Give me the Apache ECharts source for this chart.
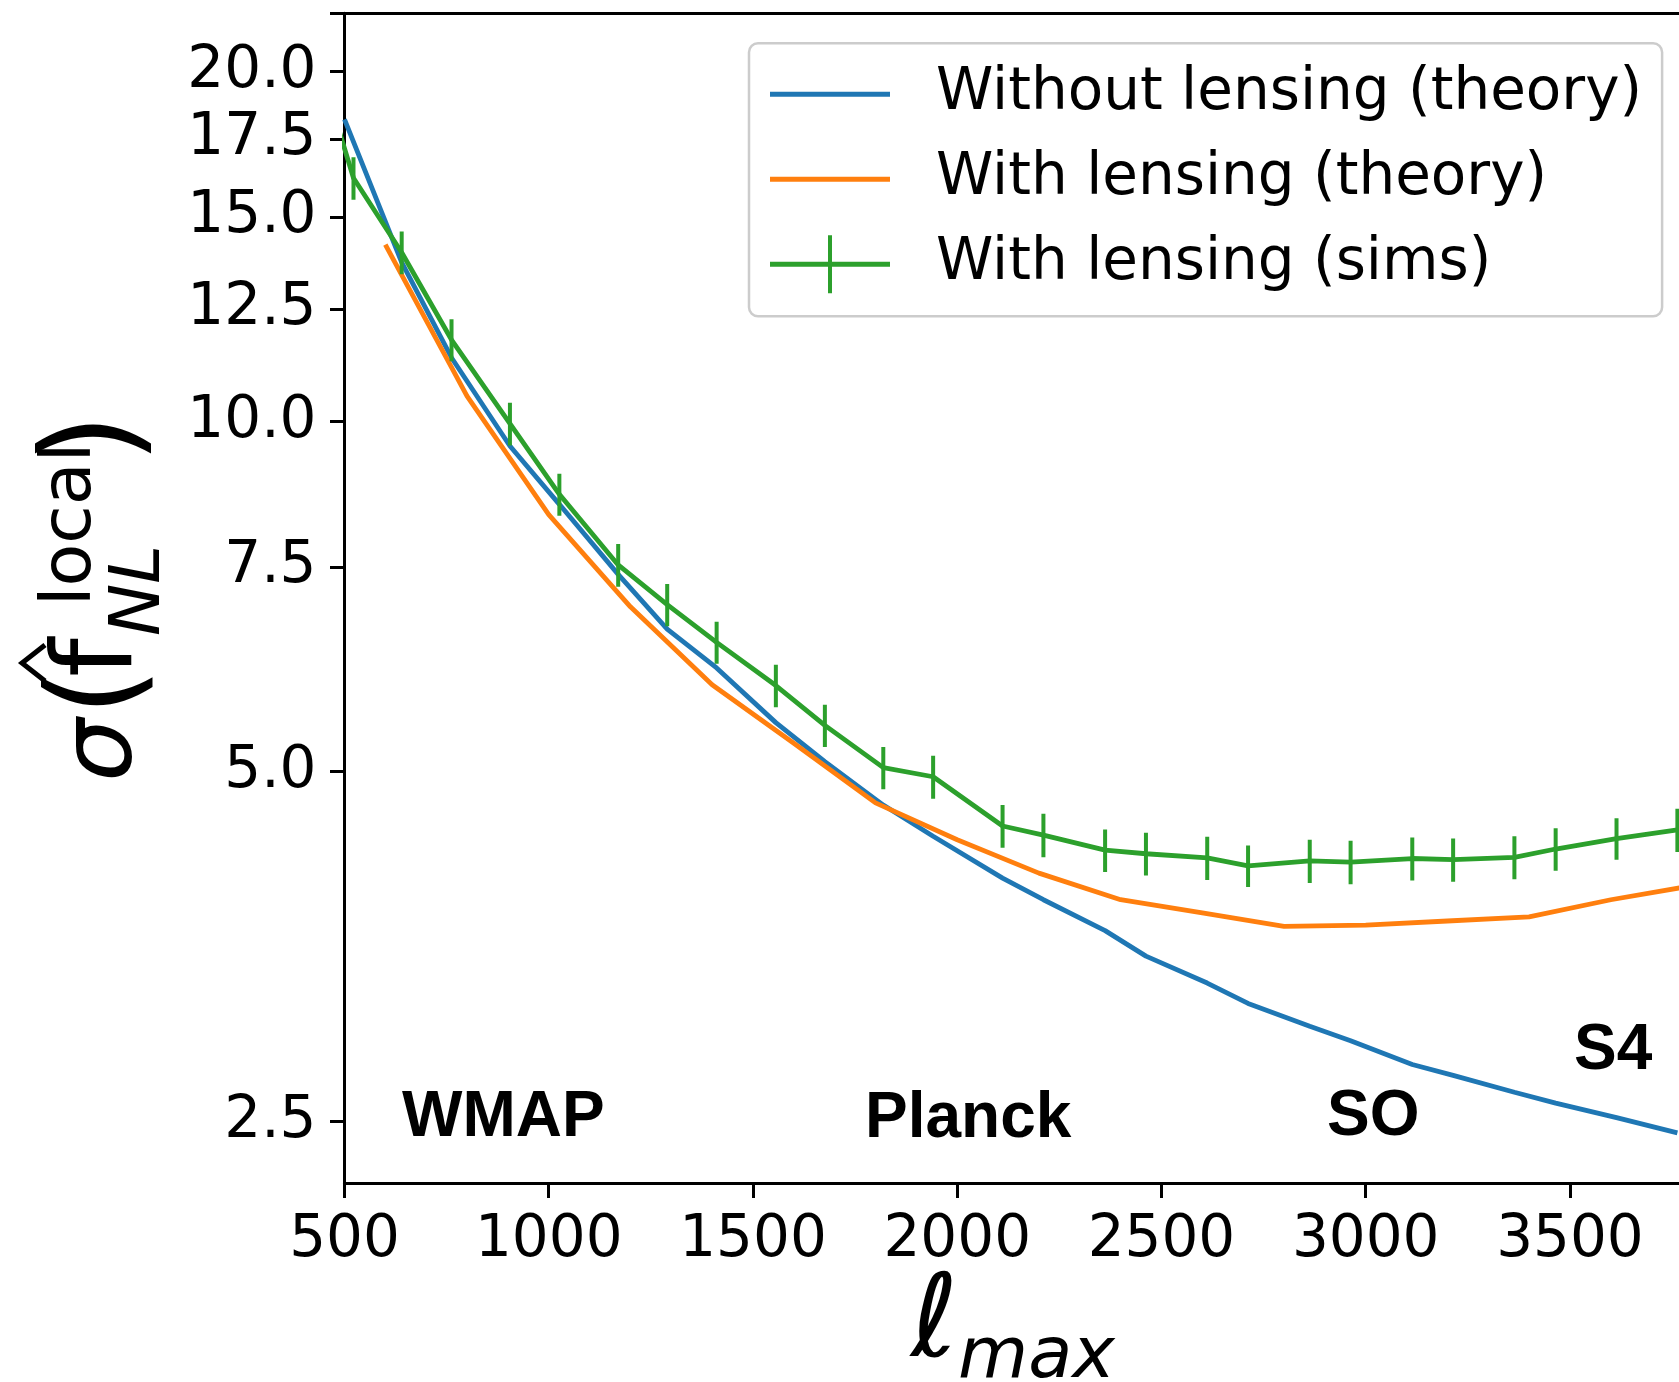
<!DOCTYPE html>
<html>
<head>
<meta charset="utf-8">
<script src="https://cdn.jsdelivr.net/npm/echarts@6/dist/echarts.min.js"></script>
<style>
  html, body { margin: 0; padding: 0; background: #ffffff; }
  #chart { width: 1679px; height: 1382px; }
</style>
</head>
<body>
<div id="chart"></div>
<script>
// Tick positions
const ellTicks = [500, 1000, 1500, 2000, 2500, 3000, 3500];
const sigmaTicks = [2.5, 5.0, 7.5, 10.0, 12.5, 15.0, 17.5, 20.0];

// Without lensing (theory)
const noLensEll = [500, 640, 762, 905, 1026, 1170, 1290, 1411, 1556, 1676, 1819, 1941, 2111, 2211,
  2362, 2462, 2612, 2712, 2863, 2963, 3114, 3214, 3364, 3465, 3614, 3763];
const noLensSigma = [18.2, 13.71, 11.35, 9.53, 8.49, 7.39, 6.63, 6.14, 5.51, 5.10, 4.68, 4.40, 4.05, 3.88,
  3.65, 3.47, 3.29, 3.16, 3.02, 2.935, 2.80, 2.74, 2.65, 2.594, 2.52, 2.445];

// With lensing (theory)
const lensEll = [600, 800, 1000, 1200, 1400, 1600, 1800, 2000, 2200, 2400, 2600, 2800, 3000, 3200,
  3400, 3600, 3800];
const lensSigma = [14.2, 10.52, 8.32, 6.93, 5.94, 5.29, 4.70, 4.37, 4.09, 3.88, 3.78, 3.68, 3.69, 3.72,
  3.75, 3.88, 3.99];

// With lensing (sims), with 1-sigma error bars
const simsEll = [470, 522, 640, 762, 905, 1026, 1170, 1290, 1411, 1556, 1676, 1819, 1941, 2111, 2211,
  2362, 2462, 2612, 2712, 2863, 2963, 3114, 3214, 3364, 3465, 3614, 3763];
const simsSigma = [18.6, 16.20, 13.98, 11.76, 9.96, 8.66, 7.53, 6.96, 6.46, 5.93, 5.48, 5.04, 4.95, 4.49, 4.41,
  4.28, 4.25, 4.215, 4.15, 4.19, 4.18, 4.21, 4.20, 4.22, 4.29, 4.38, 4.455];
const simsErr = [0.78, 0.68, 0.59, 0.49, 0.42, 0.36, 0.32, 0.29, 0.27, 0.25, 0.23, 0.21, 0.21, 0.19, 0.19,
  0.18, 0.18, 0.18, 0.17, 0.18, 0.18, 0.18, 0.18, 0.18, 0.18, 0.18, 0.19];

// Experiment labels
const experimentNames = ['WMAP', 'Planck', 'SO', 'S4'];

const BLUE = '#1f77b4', ORANGE = '#ff7f0e', GREEN = '#2ca02c';
const NAME_NOLENS = 'Without lensing (theory)';
const NAME_LENS = 'With lensing (theory)';
const NAME_SIMS = 'With lensing (sims)';
const FONT = 'DejaVu Sans';

const X_MIN = 500, X_MAX = 3800;
const Y_MIN = 2.212, Y_MAX = 22.45;

const LINE_W = 4.8;

const pairs = (xs, ys) => xs.map((x, i) => [x, ys[i]]);

const chart = echarts.init(document.getElementById('chart'), null, { renderer: 'canvas' });

const axisLineStyle = { color: '#000', width: 3 };

// Experiment label placement (pixel layout)
const expPos = [[402, 1118], [865, 1119], [1327, 1117], [1574, 1051]];

const option = {
  animation: false,
  backgroundColor: '#ffffff',
  textStyle: { fontFamily: FONT },
  grid: {
    left: 344.5, top: 13.3, width: 1348, height: 1170.2,
    containLabel: false, outerBoundsMode: 'none'
  },
  xAxis: [
    {
      type: 'value', min: X_MIN, max: X_MAX, position: 'bottom',
      axisLine: { show: true, onZero: false, lineStyle: axisLineStyle },
      axisTick: { show: true, inside: false, length: 14.5, lineStyle: { color: '#000', width: 3 }, customValues: ellTicks },
      axisLabel: { show: true, customValues: ellTicks, margin: 28, fontSize: 58, color: '#000', fontFamily: FONT,
        formatter: v => String(v) },
      splitLine: { show: false }
    },
    {
      type: 'value', min: X_MIN, max: X_MAX, position: 'top',
      axisLine: { show: true, onZero: false, lineStyle: axisLineStyle },
      axisTick: { show: false }, axisLabel: { show: false }, splitLine: { show: false }
    }
  ],
  yAxis: {
    type: 'log', logBase: 10, min: Y_MIN, max: Y_MAX,
    axisLine: { show: true, onZero: false, lineStyle: axisLineStyle },
    axisTick: { show: true, inside: false, length: 14.5, lineStyle: { color: '#000', width: 3 },
      customValues: sigmaTicks.concat([Y_MAX]) },
    axisLabel: { show: true, customValues: sigmaTicks, margin: 28, fontSize: 58, color: '#000', fontFamily: FONT,
      formatter: v => Number(v).toFixed(1) },
    splitLine: { show: false },
    minorTick: { show: false }
  },
  legend: {
    orient: 'vertical', left: 749, top: 43.3,
    itemWidth: 120, itemHeight: 58, itemGap: 27,
    padding: [22, 20, 23, 21],
    backgroundColor: 'rgba(255,255,255,0.8)',
    borderColor: '#cccccc', borderWidth: 2.5, borderRadius: 9,
    selectedMode: false,
    textStyle: { fontFamily: FONT, fontSize: 58, color: '#000', padding: [0, 0, 0, 41] },
    data: [
      { name: NAME_NOLENS, icon: 'path://M0,26.5L120,26.5L120,31.5L0,31.5Z' },
      { name: NAME_LENS, icon: 'path://M0,26.5L120,26.5L120,31.5L0,31.5Z' },
      { name: NAME_SIMS, icon: 'path://M0,26.5L58,26.5L58,0L62,0L62,26.5L120,26.5L120,31.5L62,31.5L62,58L58,58L58,31.5L0,31.5Z' }
    ]
  },
  series: [
    {
      name: NAME_NOLENS, type: 'line', data: pairs(noLensEll, noLensSigma),
      showSymbol: false, symbol: 'none', clip: true, color: BLUE,
      lineStyle: { color: BLUE, width: LINE_W }, z: 2
    },
    {
      name: NAME_LENS, type: 'line', data: pairs(lensEll, lensSigma),
      showSymbol: false, symbol: 'none', clip: true, color: ORANGE,
      lineStyle: { color: ORANGE, width: LINE_W }, z: 2
    },
    {
      name: NAME_SIMS, type: 'line', data: pairs(simsEll, simsSigma),
      showSymbol: false, symbol: 'none', clip: true, color: GREEN,
      lineStyle: { color: GREEN, width: LINE_W }, z: 3
    },
    {
      name: NAME_SIMS, type: 'custom', clip: true, color: GREEN, z: 3,
      data: simsEll.map((l, i) => [l, simsSigma[i] - simsErr[i], simsSigma[i] + simsErr[i]]),
      encode: { x: 0, y: [1, 2] },
      renderItem: (params, api) => {
        const lo = api.coord([api.value(0), api.value(1)]);
        const hi = api.coord([api.value(0), api.value(2)]);
        return {
          type: 'line',
          shape: { x1: lo[0], y1: lo[1], x2: hi[0], y2: hi[1] },
          style: { stroke: GREEN, lineWidth: 4 }
        };
      }
    }
  ],
  graphic: [
    // y-axis title: sigma(f-hat ^local _NL), rotated to read bottom-to-top
    {
      type: 'group', x: 140, y: 782, rotation: Math.PI / 2,
      children: [
        { type: 'text', x: 0, y: -34.6, style: { text: 'σ', fontSize: 100, fontStyle: 'italic', fontFamily: FONT, fill: '#000', align: 'left', verticalAlign: 'middle' } },
        { type: 'text', x: 66, y: -36.4, style: { text: '(', fontSize: 125, fontFamily: FONT, fill: '#000', align: 'left', verticalAlign: 'middle' } },
        { type: 'text', x: 105, y: -38, style: { text: 'f', fontSize: 110, fontFamily: FONT, fill: '#000', align: 'left', verticalAlign: 'middle' } },
        { type: 'polyline', shape: { points: [[101, -95], [119, -118], [137, -95]] }, style: { stroke: '#000', lineWidth: 5, fill: null } },
        { type: 'text', x: 176, y: -68.2, style: { text: 'local', fontSize: 70, fontFamily: FONT, fill: '#000', align: 'left', verticalAlign: 'middle' } },
        { type: 'text', x: 146, y: 0.8, style: { text: 'NL', fontSize: 70, fontStyle: 'italic', fontFamily: FONT, fill: '#000', align: 'left', verticalAlign: 'middle' } },
        { type: 'text', x: 318, y: -40, style: { text: ')', fontSize: 130, fontFamily: FONT, fill: '#000', align: 'left', verticalAlign: 'middle' } }
      ]
    },
    // x-axis title: ell_max
    { type: 'text', x: 911, y: 1326, style: { text: 'ℓ', fontSize: 115, fontStyle: 'italic', fontFamily: FONT, fill: '#000', align: 'left', verticalAlign: 'middle' } },
    { type: 'text', x: 958, y: 1358, style: { text: 'max', fontSize: 72, fontStyle: 'italic', fontFamily: FONT, fill: '#000', align: 'left', verticalAlign: 'middle' } }
  ].concat(experimentNames.map((name, i) => ({
    type: 'text', x: expPos[i][0], y: expPos[i][1], z: 10,
    style: { text: name, fontSize: 64, fontWeight: 'bold', fontFamily: 'Liberation Sans', fill: '#000', align: 'left', verticalAlign: 'middle' }
  })))
};

chart.setOption(option);
</script>
</body>
</html>
